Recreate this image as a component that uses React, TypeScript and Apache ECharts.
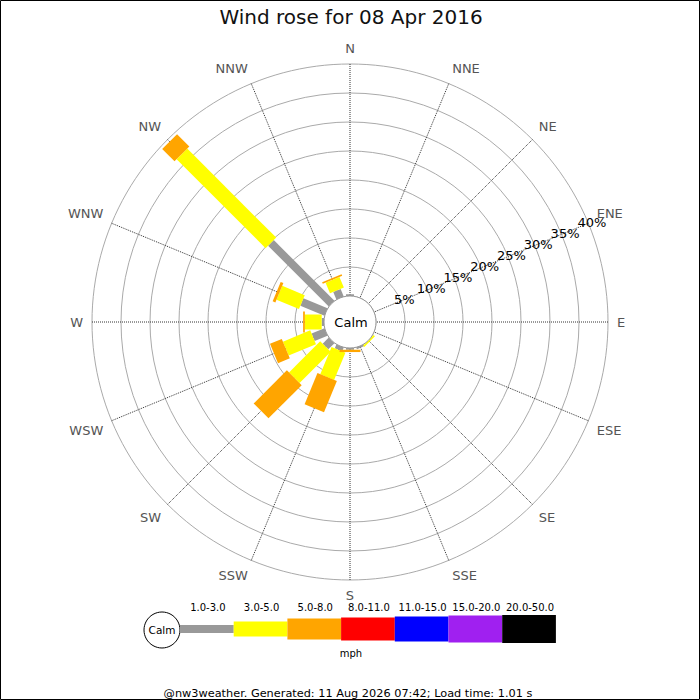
import React, { useEffect, useRef } from "react";
import * as echarts from "echarts";

const directions = ["N", "NNE", "NE", "ENE", "E", "ESE", "SE", "SSE", "S", "SSW", "SW", "WSW", "W", "WNW", "NW", "NNW"];
// percent of time per direction and speed band
const band1to3 = [0.3, 0, 0, 0, 0, 0, 0, 0.3, 0.3, 0.7, 1.5, 2.4, 0.4, 4.5, 14.8, 1.4];
const band3to5 = [0, 0, 0, 0, 0, 0, 0.3, 0, 0, 5.1, 7.6, 5.1, 2.9, 4.2, 21.7, 2.0];
const band5to8 = [0, 0, 0, 0, 0, 0, 0, 0, 0.4, 5.8, 8.1, 2.2, 0.3, 0.5, 3.0, 0.3];
const legendLabels = ["1.0-3.0", "3.0-5.0", "5.0-8.0", "8.0-11.0", "11.0-15.0", "15.0-20.0", "20.0-50.0"];
const radiusTicks = [5, 10, 15, 20, 25, 30, 35, 40];
const radiusMax = 40;
const radiusStep = 5;
const titleText = "Wind rose for 08 Apr 2016";
const footerText = "@nw3weather. Generated: 11 Aug 2026 07:42; Load time: 1.01 s";

const bandColors = ["#999999", "#ffff00", "#ffa500", "#ff0000", "#0000ff", "#a020f0", "#000000"];
const bandWidths = [8, 15, 21];
const legendHeights = [8, 15, 21, 23, 25, 27, 28];
const FONT = "DejaVu Sans";

export default function App() {
  const ref = useRef<HTMLDivElement>(null);
  useEffect(() => {
    if (!ref.current) return;
    const chart = echarts.init(ref.current, null, { renderer: "svg" });
    const step = 360 / directions.length;
    // the angle axis starts at ENE so that the percentage labels lie along ENE
    const axisStart = directions.indexOf("ENE") * step;
    const toAxis = (compass: number) => (((compass - axisStart) % 360) + 360) % 360;
    const toName = (v: number) => directions[Math.round(((v + axisStart) % 360) / step) % directions.length];
    const bands = [band1to3, band3to5, band5to8];

    const series: any[] = bands.map((vals, b) => ({
      type: "custom",
      coordinateSystem: "polar",
      silent: true,
      z: 5,
      encode: { radius: 0, angle: 1 },
      data: directions.map((d, i) => {
        let start = 0;
        for (let k = 0; k < b; k++) start += bands[k][i];
        return [start + vals[i], toAxis(i * step), start];
      }),
      renderItem: (params: any, api: any) => {
        const end = api.value(0);
        const ang = api.value(1);
        const start = api.value(2);
        if (!(end - start > 0)) return null;
        const a = api.coord([0, ang]);
        const o = api.coord([radiusMax, ang]);
        let ux = o[0] - a[0];
        let uy = o[1] - a[1];
        const len = Math.sqrt(ux * ux + uy * uy);
        ux /= len;
        uy /= len;
        const hw = bandWidths[b] / 2;
        const px = -uy * hw;
        const py = ux * hw;
        const p0 = api.coord([start, ang]);
        const p1 = api.coord([end, ang]);
        return {
          type: "polygon",
          shape: {
            points: [
              [p0[0] + px, p0[1] + py],
              [p1[0] + px, p1[1] + py],
              [p1[0] - px, p1[1] - py],
              [p0[0] - px, p0[1] - py],
            ],
          },
          style: { fill: bandColors[b], stroke: null },
        };
      },
    }));

    // percentage labels along the ENE spoke
    series.push({
      type: "custom",
      coordinateSystem: "polar",
      silent: true,
      z: 20,
      encode: { radius: 0, angle: 1 },
      data: radiusTicks.map((v) => [v, toAxis(axisStart)]),
      renderItem: (params: any, api: any) => {
        const v = api.value(0);
        const p = api.coord([v, api.value(1)]);
        return {
          type: "text",
          x: p[0] + 3.5,
          y: p[1] - 1.2,
          style: {
            text: v + "%",
            fill: "#000",
            fontSize: 13,
            fontFamily: FONT,
            align: "center",
            verticalAlign: "middle",
          },
        };
      },
    });

    const legendX0 = 180;
    const legendW = 53.7;
    const legendY = 629;
    const legendEls: any[] = [];
    legendLabels.forEach((lab, i) => {
      const h = legendHeights[i];
      legendEls.push({
        type: "rect",
        shape: { x: legendX0 + i * legendW, y: legendY - h / 2, width: legendW, height: h },
        style: { fill: bandColors[i] },
      });
      legendEls.push({
        type: "text",
        x: legendX0 + i * legendW + legendW / 2 + 1,
        y: 607,
        style: { text: lab, fontSize: 10, fontFamily: FONT, fill: "#000", align: "center", verticalAlign: "middle" },
      });
    });

    chart.setOption({
      animation: false,
      backgroundColor: "#ffffff",
      polar: { center: [350, 322], radius: [26, 258] },
      angleAxis: {
        type: "value",
        min: 0,
        max: 360,
        interval: step,
        startAngle: 90 - axisStart,
        clockwise: true,
        axisLine: { show: false },
        axisTick: { show: false },
        axisLabel: {
          show: true,
          margin: 9,
          color: "#555555",
          fontSize: 13,
          fontFamily: FONT,
          hideOverlap: false,
          formatter: (v: number) => toName(v),
        },
        splitLine: { show: true, lineStyle: { color: "#333333", type: "dotted", width: 1 } },
      },
      radiusAxis: {
        type: "value",
        min: 0,
        max: radiusMax,
        interval: radiusStep,
        axisLine: { show: false },
        axisTick: { show: false },
        axisLabel: { show: false },
        splitLine: { show: true, lineStyle: { color: "#aaaaaa", width: 1 } },
      },
      series,
      graphic: [
        {
          type: "rect",
          z: 100,
          silent: true,
          shape: { x: 0.5, y: 0.5, width: 699, height: 699 },
          style: { fill: "none", stroke: "#000", lineWidth: 1 },
        },
        {
          type: "text",
          z: 100,
          x: 351,
          y: 17,
          style: { text: titleText, fontSize: 20, fontFamily: FONT, fill: "#111", align: "center", verticalAlign: "middle" },
        },
        {
          type: "circle",
          z: 100,
          shape: { cx: 350, cy: 322, r: 26 },
          style: { fill: "#fff", stroke: "#999", lineWidth: 1 },
        },
        {
          type: "text",
          z: 101,
          x: 351,
          y: 322,
          style: { text: "Calm", fontSize: 13, fontFamily: FONT, fill: "#000", align: "center", verticalAlign: "middle" },
        },
        {
          type: "circle",
          z: 100,
          shape: { cx: 162, cy: 630, r: 18 },
          style: { fill: "#fff", stroke: "#000", lineWidth: 1 },
        },
        {
          type: "text",
          z: 101,
          x: 162,
          y: 630,
          style: { text: "Calm", fontSize: 10.5, fontFamily: FONT, fill: "#000", align: "center", verticalAlign: "middle" },
        },
        ...legendEls.map((e) => ({ ...e, z: 100 })),
        {
          type: "text",
          z: 100,
          x: 351,
          y: 653,
          style: { text: "mph", fontSize: 10, fontFamily: FONT, fill: "#000", align: "center", verticalAlign: "middle" },
        },
        {
          type: "text",
          z: 100,
          x: 348,
          y: 693,
          style: { text: footerText, fontSize: 11.3, fontFamily: FONT, fill: "#000", align: "center", verticalAlign: "middle" },
        },
      ],
    });
    return () => chart.dispose();
  }, []);
  return <div ref={ref} style={{ position: "absolute", left: 0, top: 0, width: 700, height: 700 }} />;
}
